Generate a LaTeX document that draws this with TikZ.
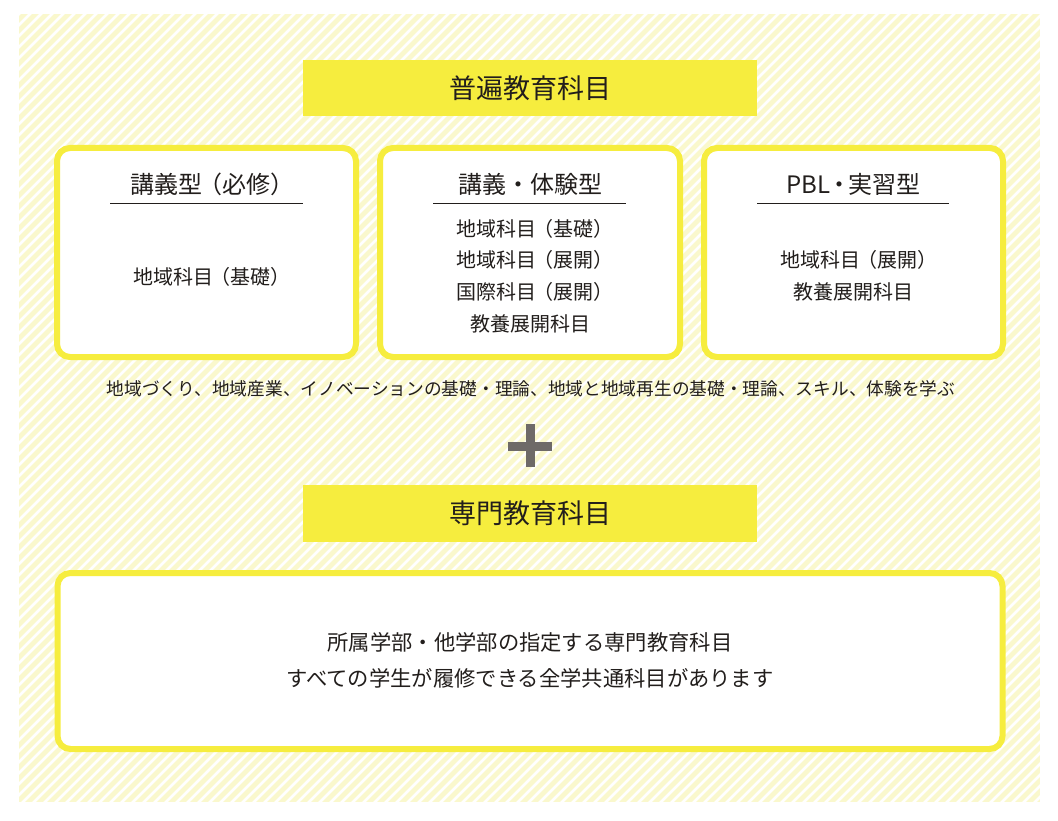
\documentclass[tikz,border=0pt]{standalone}
\usepackage{fontspec}
\setmainfont{Noto Sans CJK JP}
\definecolor{ybright}{RGB}{246,237,62}
\definecolor{ypale}{RGB}{250,248,205}
\definecolor{ink}{RGB}{34,30,28}
\definecolor{plusgray}{RGB}{110,106,104}
\newcommand\myLP{\kern-0.15em（}
\newcommand\myRP{）\kern-0.5em}
\tikzset{
  panel/.style={draw=ybright, line width=6pt, rounded corners=13pt, fill=white, inner sep=0pt},
  band/.style={fill=ybright, minimum width=454pt, minimum height=56pt, inner sep=0pt, text=ink, font=\fontsize{27}{32}\selectfont},
  ttl/.style={inner sep=0pt, text=ink, font=\fontsize{24}{28}\selectfont},
  body/.style={inner sep=0pt, align=center, text=ink, font=\fontsize{20}{31.7}\selectfont},
  note/.style={inner sep=0pt, text=ink, font=\fontsize{17.7}{22}\selectfont},
  big/.style={inner sep=0pt, align=center, text=ink, font=\fontsize{21.3}{36}\selectfont},
  rule/.style={draw=ink, line width=1pt},
}
\begin{document}
\begin{tikzpicture}[x=1pt,y=-1pt]
\useasboundingbox (0,0) rectangle (1058,821);
\fill[white] (0,0) rectangle (1058,821);
% striped background
\begin{scope}
  \clip (19,14) rectangle (1040,802);
  \fill[ypale] (19,14) rectangle (1040,802);
  \foreach \c in {0,11,...,1870} {
    \draw[white, line width=2.8pt] (\c,0) -- ({\c-900},900);
  }
\end{scope}
% header 1
\node[band] (h1) at (530,88) {普遍教育科目};
% three panels
\node[panel, minimum width=299pt, minimum height=209pt] (p1) at (206.5,252.5) {};
\node[panel, minimum width=300pt, minimum height=209pt] (p2) at (530,252.5) {};
\node[panel, minimum width=299pt, minimum height=209pt] (p3) at (853.5,252.5) {};
% titles
\node[ttl] (t1) at (206.5,184) {講義型\myLP 必修\myRP};
\node[ttl] (t2) at (530,184) {講義・体験型};
\node[ttl] (t3) at (853.5,184) {PBL\kern-0.12em・\kern-0.12em 実習型};
\draw[rule] (110,204) -- (303,204);
\draw[rule] (433,204) -- (626,204);
\draw[rule] (757,204) -- (949,204);
% contents
\node[body] (c1) at (206.5,277) {地域科目\myLP 基礎\myRP};
\node[body] (c2) at (530,276) {地域科目\myLP 基礎\myRP\\地域科目\myLP 展開\myRP\\国際科目\myLP 展開\myRP\\教養展開科目};
\node[body] (c3) at (853.5,276) {地域科目\myLP 展開\myRP\\教養展開科目};
% note line
\node[note] (n1) at (531,389) {地域づくり、地域産業、イノベーションの基礎・理論、地域と地域再生の基礎・理論、スキル、体験を学ぶ};
% plus sign
\fill[plusgray] (508,441.5) rectangle (552,451);
\fill[plusgray] (525.5,424) rectangle (535,467);
% header 2
\node[band, minimum height=57pt] (h2) at (530,513.5) {専門教育科目};
% bottom panel
\node[panel, minimum width=945pt, minimum height=176pt] (p4) at (530,661) {};
\node[big] (c4) at (530,660) {所属学部・他学部の指定する専門教育科目\\すべての学生が履修できる全学共通科目があります};
\end{tikzpicture}
\end{document}
